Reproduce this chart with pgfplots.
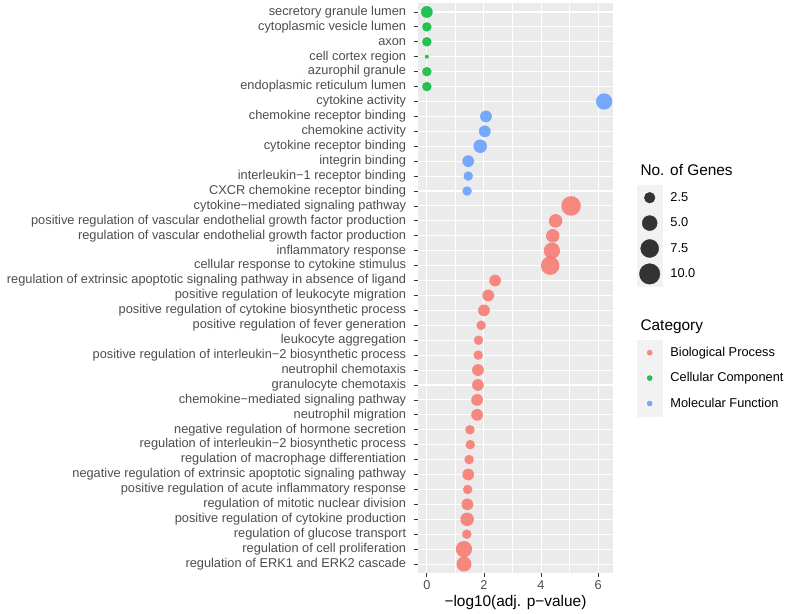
\documentclass[border=0pt]{standalone}
\usepackage{pgfplots}
\pgfplotsset{compat=1.18}
\usepackage{fontspec}
\setmainfont{Liberation Sans}
\definecolor{bp}{HTML}{F8766D}
\definecolor{cc}{HTML}{00BA38}
\definecolor{mf}{HTML}{619CFF}
\definecolor{panel}{HTML}{EBEBEB}
\definecolor{keyg}{HTML}{F2F2F2}
\definecolor{g30}{HTML}{4D4D4D}
\definecolor{g20}{HTML}{333333}
\pgfdeclareplotmark{fdot}{\pgfpathcircle{\pgfpoint{0pt}{0pt}}{\pgfplotmarksize}\pgfusepathqfill}
\pgfplotstableread{
row x n
14 5.05 9
15 4.51 4
16 4.41 4
17 4.38 6
18 4.32 8
19 2.39 3
20 2.15 3
21 2.00 3
22 1.90 2
23 1.81 2
24 1.80 2
25 1.79 3
26 1.79 3
27 1.76 3
28 1.76 3
29 1.51 2
30 1.52 2
31 1.48 2
32 1.45 3
33 1.43 2
34 1.42 3
35 1.41 4
36 1.40 2
37 1.30 6
38 1.30 5
}\bpdata
\pgfplotstableread{
row x n
1 0.0 3
2 0.0 2
3 0.0 2
4 0.0 1
5 0.0 2
6 0.0 2
}\ccdata
\pgfplotstableread{
row x n
7 6.21 6
8 2.07 3
9 2.03 3
10 1.87 4
11 1.45 3
12 1.45 2
13 1.41 2
}\mfdata
\pgfplotsset{
  dotstyle/.style={scatter, only marks, mark=fdot, color=#1,
    mark options={fill opacity=0.85},
    visualization depends on={\thisrow{n} \as \ngenes},
    scatter/@pre marker code/.code={\pgfmathsetmacro\ms{2+2.75*sqrt(\ngenes-1)}\pgfsetplotmarksize{\ms pt}},
    scatter/@post marker code/.code={}},
  sizekey/.style={legend image code/.code={\fill[keyg] (-12.5pt,-12.5pt) rectangle (12.5pt,12.5pt);
      \fill[g20] (0,0) circle (#1);}},
  catkey/.style={legend image code/.code={\fill[keyg] (-12.5pt,-12.5pt) rectangle (12.5pt,12.5pt);
      \fill[#1, fill opacity=0.85] (0,0) circle (2.5pt);}},
  legbox/.style={legend style={at={(axis description cs:1.1231,#1)}, anchor=north west, draw=none, fill=none,
    inner sep=0pt, outer sep=0pt, row sep=0pt, column sep=8pt,
    font=\fontsize{12.8}{14}\selectfont, nodes={inner sep=0pt}},
    legend cell align=left},
}
\begin{document}
\begin{tikzpicture}
\path[use as bounding box] (-418pt,-40pt) rectangle (371pt,573pt);
\begin{axis}[
  at={(0,0)}, anchor=south west,
  scale only axis, width=195pt, height=570pt,
  xmin=-0.31, xmax=6.52, ymin=0.4, ymax=38.6, y dir=reverse,
  axis background/.style={fill=panel},
  axis line style={draw=none},
  xtick={0,2,4,6}, minor xtick={1,3,5},
  ytick={1,...,38},
  yticklabels={secretory granule lumen,cytoplasmic vesicle lumen,axon,cell cortex region,azurophil granule,endoplasmic reticulum lumen,cytokine activity,chemokine receptor binding,chemokine activity,cytokine receptor binding,integrin binding,interleukin−1 receptor binding,CXCR chemokine receptor binding,cytokine−mediated signaling pathway,positive regulation of vascular endothelial growth factor production,regulation of vascular endothelial growth factor production,inflammatory response,cellular response to cytokine stimulus,regulation of extrinsic apoptotic signaling pathway in absence of ligand,positive regulation of leukocyte migration,positive regulation of cytokine biosynthetic process,positive regulation of fever generation,leukocyte aggregation,positive regulation of interleukin−2 biosynthetic process,neutrophil chemotaxis,granulocyte chemotaxis,chemokine−mediated signaling pathway,neutrophil migration,negative regulation of hormone secretion,regulation of interleukin−2 biosynthetic process,regulation of macrophage differentiation,negative regulation of extrinsic apoptotic signaling pathway,positive regulation of acute inflammatory response,regulation of mitotic nuclear division,positive regulation of cytokine production,regulation of glucose transport,regulation of cell proliferation,regulation of ERK1 and ERK2 cascade},
  grid=both,
  major grid style={white, line width=1.1pt},
  minor grid style={white, line width=0.55pt},
  tick align=outside, tick pos=left,
  major tick length=3.85pt, minor tick length=0pt,
  every tick/.style={g20, line width=0.8pt},
  tick label style={font=\fontsize{12.8}{14}\selectfont, text=g30},
  yticklabel style={xshift=-4.5pt},
  /pgf/number format/assume math mode=true,
  xlabel={−log10(adj. p−value)},
  xlabel style={font=\fontsize{15.4}{18}\selectfont, at={(axis description cs:0.5,-0.0509)}, anchor=center},
]
\addplot[dotstyle=bp] table[x=x, y=row] {\bpdata};
\addplot[dotstyle=cc] table[x=x, y=row] {\ccdata};
\addplot[dotstyle=mf] table[x=x, y=row] {\mfdata};
\end{axis}
\begin{axis}[
  at={(0,0)}, anchor=south west,
  scale only axis, width=195pt, height=570pt,
  hide axis, clip=false, xmin=0, xmax=1, ymin=0, ymax=1,
  legbox=0.6807,
]
\addlegendimage{sizekey=5.37pt}
\addlegendentry{2.5}
\addlegendimage{sizekey=7.5pt}
\addlegendentry{5.0}
\addlegendimage{sizekey=9.01pt}
\addlegendentry{7.5}
\addlegendimage{sizekey=10.25pt}
\addlegendentry{10.0}
\node[anchor=base west, font=\fontsize{15.4}{18}\selectfont] at (axis description cs:1.1231,0.6965) {No. of Genes};
\node[anchor=base west, font=\fontsize{15.4}{18}\selectfont] at (axis description cs:1.1231,0.4263) {Category};
\end{axis}
\begin{axis}[
  at={(0,0)}, anchor=south west,
  scale only axis, width=195pt, height=570pt,
  hide axis, clip=false, xmin=0, xmax=1, ymin=0, ymax=1,
  legbox=0.4088,
]
\addlegendimage{catkey=bp}
\addlegendentry{Biological Process}
\addlegendimage{catkey=cc}
\addlegendentry{Cellular Component}
\addlegendimage{catkey=mf}
\addlegendentry{Molecular Function}
\end{axis}
\end{tikzpicture}
\end{document}
